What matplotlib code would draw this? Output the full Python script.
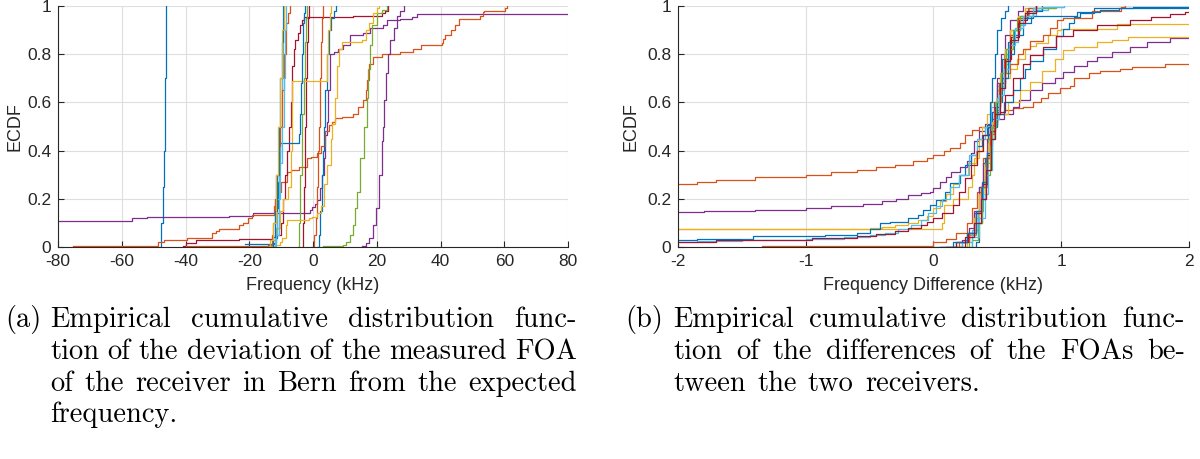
import matplotlib
matplotlib.use("Agg")
import matplotlib.pyplot as plt
from matplotlib.transforms import IdentityTransform

plt.rcParams['axes.unicode_minus'] = False

# MATLAB default colour order
BLUE, ORANGE, YELLOW, PURPLE = '#0072BD', '#D95319', '#EDB120', '#7E2F8E'
GREEN, CYAN, DRED = '#77AC30', '#4DBEEE', '#A2142F'

# ---- (a) deviation from expected frequency, kHz -> ECDF (step knots)
a_blue_far = [(-48.2, 0.0), (-47.6, 0.1), (-47.1, 0.25), (-46.8, 0.4), (-46.5, 0.7), (-46.2, 1.0)]
a_purple_long = [(-80, 0.109), (-56.9, 0.119), (-52.2, 0.126), (-26.3, 0.13), (-18.7, 0.14), (-0.9, 0.153),
                 (-0.2, 0.167), (0.5, 0.18), (1.2, 0.195), (2.2, 0.245), (2.8, 0.3), (3.3, 0.37), (3.8, 0.465),
                 (4.3, 0.52), (4.8, 0.65), (5.3, 0.8), (6.5, 0.81), (7.7, 0.82), (9.3, 0.84), (11.6, 0.88),
                 (15.8, 0.89), (17.9, 0.91), (22.0, 0.92), (23.2, 0.94), (27.3, 0.945), (31.0, 0.955),
                 (32.6, 0.965), (80, 0.965)]
a_orange_long = [(-75.3, 0.005), (-48.6, 0.022), (-46.8, 0.031), (-39.5, 0.039), (-31.7, 0.06), (-30.5, 0.068),
                 (-29.6, 0.074), (-23.3, 0.09), (-22.0, 0.10), (-20.5, 0.12), (-19.0, 0.133), (-12.3, 0.17),
                 (-11.8, 0.2), (-11.2, 0.23), (-10.0, 0.27), (-8.1, 0.31), (-7.0, 0.32), (-4.4, 0.333),
                 (-1.8, 0.37), (-0.7, 0.375), (1.3, 0.39), (2.4, 0.42), (3.9, 0.48), (5.0, 0.506), (6.1, 0.52),
                 (7.0, 0.535), (9.1, 0.54), (12.5, 0.55), (14.0, 0.58), (15.7, 0.61), (16.5, 0.65), (17.0, 0.695),
                 (17.6, 0.76), (18.8, 0.79), (21.8, 0.80), (27.2, 0.81), (31.4, 0.823), (33.8, 0.837),
                 (40.4, 0.845), (40.8, 0.865), (41.5, 0.88), (43.4, 0.9), (44.5, 0.92), (45.8, 0.945),
                 (52.4, 0.96), (53.2, 0.975), (53.6, 0.98), (60.2, 0.99), (60.8, 1.0)]
a_dred_long = [(-40.8, 0.003), (-39.9, 0.015), (-36.8, 0.03), (-23.3, 0.033), (-19.0, 0.035), (-13.0, 0.04),
               (-11.5, 0.05), (-10.0, 0.1), (-9.5, 0.2), (-8.8, 0.3), (-8.1, 0.4), (-7.5, 0.5), (-7.0, 0.6),
               (-6.5, 0.75), (-6.0, 0.82), (-5.6, 0.86), (-4.8, 0.89), (-4.1, 0.92), (-3.4, 0.94),
               (-2.8, 0.955), (12.5, 0.96), (21.6, 0.97), (22.5, 0.98), (23.5, 1.0)]
a_dred_steep = [(-3.6, 0.0), (-3.2, 0.1), (-2.9, 0.25), (-2.6, 0.4), (-2.4, 0.5), (-2.1, 0.7), (-1.8, 0.85),
                (-1.5, 0.95), (-1.2, 1.0)]
a_orange_steep = [(-0.5, 0.0), (0.2, 0.05), (0.8, 0.12), (1.2, 0.25), (1.6, 0.4), (2.0, 0.5), (2.3, 0.7),
                  (2.6, 0.85), (2.9, 0.95), (3.1, 1.0)]
a_green_steep = [(-4.8, 0.0), (-4.4, 0.1), (-4.0, 0.3), (-3.6, 0.45), (-3.3, 0.55), (-2.9, 0.7), (-2.5, 0.85),
                 (-2.1, 0.95), (-1.8, 1.0)]
a_green_right = [(3.0, 0.003), (9.4, 0.01), (10.5, 0.02), (11.6, 0.05), (12.6, 0.09), (13.2, 0.16), (13.7, 0.23),
                 (14.8, 0.37), (16.0, 0.5), (16.8, 0.62), (17.4, 0.74), (18.0, 0.84), (18.5, 0.92), (20.0, 0.97),
                 (21.5, 0.985), (23.3, 1.0)]
a_purple_right = [(15.3, 0.005), (16.5, 0.015), (17.6, 0.037), (18.7, 0.09), (19.8, 0.16), (20.8, 0.3),
                  (21.5, 0.44), (21.9, 0.5), (22.4, 0.61), (23.0, 0.72), (23.6, 0.8), (24.2, 0.86), (25.4, 0.91),
                  (26.4, 0.96), (27.2, 0.98), (28.5, 1.0)]
a_blue_right = [(1.2, 0.0), (1.8, 0.05), (2.2, 0.15), (2.8, 0.3), (3.1, 0.4), (3.3, 0.5), (3.8, 0.65), (4.4, 0.8),
                (5.0, 0.9), (5.7, 0.95), (6.5, 0.98), (7.2, 1.0)]
a_yellow_slow = [(-16.5, 0.003), (-12.0, 0.01), (-10.5, 0.02), (-9.7, 0.036), (-8.6, 0.09), (-8.1, 0.112),
                 (-1.3, 0.12), (-0.3, 0.126), (1.3, 0.14), (2.4, 0.17), (3.4, 0.26), (4.4, 0.34), (5.5, 0.45),
                 (6.1, 0.51), (6.8, 0.62), (7.5, 0.75), (8.3, 0.82), (9.1, 0.85), (15.4, 0.86), (16.5, 0.9),
                 (17.6, 0.93), (18.8, 0.97), (20.0, 0.99), (20.8, 1.0)]
a_yellow_plateau = [(-14.0, 0.0), (-12.5, 0.03), (-11.5, 0.08), (-10.5, 0.15), (-9.5, 0.2), (-8.0, 0.25),
                    (-6.9, 0.28), (-6.8, 0.4), (-6.7, 0.55), (-6.6, 0.69), (4.3, 0.8), (4.7, 0.9), (5.2, 0.97),
                    (5.6, 1.0)]
a_blue_plateau = [(-21.4, 0.011), (-12.2, 0.015), (-11.7, 0.036), (-11.4, 0.1), (-11.2, 0.16), (-10.9, 0.27),
                  (-10.7, 0.37), (-10.2, 0.43), (-4.4, 0.47), (-4.1, 0.55), (-3.8, 0.68), (-3.5, 0.8),
                  (-3.2, 0.93), (-2.9, 0.97), (-2.6, 1.0)]
a_cyan_1 = [(-13.0, 0.0), (-12.0, 0.05), (-11.3, 0.2), (-10.8, 0.35), (-10.2, 0.5), (-9.8, 0.7), (-9.4, 0.9),
            (-9.0, 1.0)]
a_orange_mid = [(-40.0, 0.003), (-22.0, 0.006), (-14.0, 0.01), (-13.0, 0.05), (-12.5, 0.1), (-12.0, 0.2),
                (-11.5, 0.3), (-10.8, 0.42), (-10.2, 0.5), (-9.6, 0.65), (-9.0, 0.8), (-8.5, 0.93), (-7.8, 0.97),
                (-7.2, 1.0)]
a_cyan_2 = [(-12.5, 0.0), (-11.5, 0.05), (-10.8, 0.2), (-10.2, 0.35), (-9.6, 0.5), (-9.2, 0.7), (-8.8, 0.9),
            (-8.4, 1.0)]
a_blue_mid = [(-13.5, 0.0), (-12.5, 0.04), (-11.8, 0.15), (-11.2, 0.3), (-10.7, 0.5), (-10.2, 0.7), (-9.8, 0.85),
              (-9.3, 1.0)]
a_yellow_mid = [(-15.0, 0.0), (-13.5, 0.03), (-12.5, 0.1), (-11.6, 0.3), (-11.0, 0.5), (-10.3, 0.7), (-9.7, 0.9),
                (-9.2, 1.0)]

# ---- (b) difference between receivers, kHz -> ECDF
b_orange_long = [(-2.0, 0.26), (-1.85, 0.27), (-1.7, 0.28), (-1.4, 0.29), (-1.0, 0.30), (-0.8, 0.31), (-0.6, 0.32),
                 (-0.45, 0.33), (-0.3, 0.34), (-0.16, 0.355), (-0.05, 0.368), (0.0, 0.382), (0.08, 0.40),
                 (0.13, 0.41), (0.21, 0.43), (0.25, 0.465), (0.3, 0.485), (0.36, 0.5), (0.45, 0.52), (0.5, 0.55),
                 (0.55, 0.57), (0.62, 0.575), (0.7, 0.58), (0.78, 0.6), (0.84, 0.62), (0.9, 0.64), (0.99, 0.66),
                 (1.07, 0.67), (1.1, 0.7), (1.22, 0.72), (1.3, 0.73), (1.46, 0.74), (1.55, 0.745), (1.81, 0.76),
                 (2.0, 0.76)]
b_purple_long = [(-2.0, 0.145), (-1.8, 0.15), (-1.4, 0.155), (-1.0, 0.16), (-0.8, 0.17), (-0.55, 0.18),
                 (-0.4, 0.19), (-0.29, 0.2), (-0.2, 0.215), (-0.1, 0.222), (-0.03, 0.228), (0.0, 0.243),
                 (0.05, 0.27), (0.1, 0.29), (0.14, 0.31), (0.21, 0.33), (0.26, 0.355), (0.29, 0.39), (0.32, 0.44),
                 (0.36, 0.48), (0.4, 0.51), (0.45, 0.53), (0.55, 0.55), (0.62, 0.58), (0.67, 0.61), (0.755, 0.65),
                 (0.85, 0.68), (0.95, 0.7), (1.01, 0.726), (1.1, 0.75), (1.2, 0.77), (1.28, 0.79), (1.4, 0.81),
                 (1.54, 0.83), (1.67, 0.85), (1.85, 0.867), (2.0, 0.867)]
b_yellow_a = [(-2.0, 0.075), (0.063, 0.1), (0.08, 0.176), (0.15, 0.2), (0.27, 0.25), (0.3, 0.3), (0.32, 0.37),
              (0.36, 0.45), (0.38, 0.5), (0.42, 0.55), (0.45, 0.6), (0.5, 0.65), (0.55, 0.7), (0.6, 0.74),
              (0.65, 0.78), (0.72, 0.82), (0.755, 0.834), (0.8, 0.848), (0.9, 0.88), (0.97, 0.9), (1.0, 0.905),
              (1.44, 0.925), (2.0, 0.925)]
b_yellow_b = [(-2.0, 0.075), (-0.5, 0.08), (-0.4, 0.085), (-0.3, 0.09), (-0.2, 0.1), (-0.12, 0.11), (-0.05, 0.13),
              (0.0, 0.16), (0.05, 0.19), (0.1, 0.22), (0.15, 0.26), (0.2, 0.3), (0.27, 0.35), (0.33, 0.4),
              (0.38, 0.45), (0.43, 0.5), (0.5, 0.55), (0.58, 0.6), (0.68, 0.65), (0.755, 0.685), (0.85, 0.73),
              (0.95, 0.78), (1.01, 0.817), (1.1, 0.83), (1.28, 0.85), (1.4, 0.86), (1.52, 0.87), (2.0, 0.87)]
b_blue_long = [(-2.0, 0.028), (-1.85, 0.033), (-1.41, 0.044), (-0.85, 0.05), (-0.6, 0.06), (-0.5, 0.075),
               (-0.42, 0.1), (-0.34, 0.105), (-0.2, 0.12), (-0.12, 0.133), (-0.08, 0.155), (-0.03, 0.176),
               (0.02, 0.195), (0.09, 0.23), (0.13, 0.264), (0.21, 0.3), (0.25, 0.34), (0.29, 0.38), (0.34, 0.42),
               (0.38, 0.465), (0.42, 0.506), (0.48, 0.55), (0.55, 0.6), (0.62, 0.65), (0.68, 0.7), (0.72, 0.74),
               (0.755, 0.77), (0.86, 0.82), (0.96, 0.875), (1.01, 0.905), (1.06, 0.93), (1.1, 0.955),
               (1.15, 0.97), (1.26, 0.99), (1.56, 0.995), (2.0, 0.995)]
b_cyan_long = [(-2.0, 0.02), (-1.85, 0.025), (-1.5, 0.03), (-1.0, 0.035), (-0.7, 0.04), (-0.5, 0.05), (-0.38, 0.06),
               (-0.28, 0.075), (-0.18, 0.09), (-0.1, 0.11), (-0.04, 0.14), (0.02, 0.17), (0.07, 0.2), (0.13, 0.25),
               (0.2, 0.3), (0.28, 0.38), (0.34, 0.45), (0.4, 0.5), (0.45, 0.58), (0.5, 0.67), (0.55, 0.76),
               (0.6, 0.85), (0.66, 0.92), (0.72, 0.96), (0.8, 0.985), (0.9, 0.995), (1.02, 1.0)]
b_dred_long = [(-2.0, 0.022), (-1.7, 0.03), (-0.95, 0.037), (-0.6, 0.045), (-0.45, 0.055), (-0.3, 0.065),
               (-0.2, 0.08), (-0.1, 0.09), (-0.05, 0.105), (0.0, 0.12), (0.07, 0.14), (0.15, 0.176), (0.2, 0.23),
               (0.25, 0.285), (0.29, 0.34), (0.34, 0.4), (0.39, 0.465), (0.44, 0.506), (0.5, 0.56), (0.56, 0.63),
               (0.62, 0.7), (0.7, 0.76), (0.755, 0.797), (0.86, 0.83), (0.96, 0.876), (1.09, 0.9), (1.28, 0.92),
               (1.54, 0.94), (1.7, 0.955), (1.85, 0.966), (1.97, 0.975), (2.0, 0.975)]
b_orange_short = [(-1.34, 0.005), (0.0, 0.02), (0.1, 0.035), (0.18, 0.06), (0.26, 0.1), (0.3, 0.16), (0.34, 0.23),
                  (0.39, 0.37), (0.44, 0.5), (0.48, 0.58), (0.52, 0.66), (0.56, 0.72), (0.6, 0.76), (0.66, 0.8),
                  (0.7, 0.82), (0.755, 0.855), (0.86, 0.88), (0.91, 0.91), (0.97, 0.94), (1.01, 0.95),
                  (1.24, 0.98), (1.47, 0.995), (1.5, 1.0)]
b_blue_tail = [(0.05, 0.0), (0.18, 0.02), (0.26, 0.06), (0.32, 0.14), (0.36, 0.25), (0.4, 0.37), (0.43, 0.47),
               (0.46, 0.56), (0.5, 0.68), (0.54, 0.78), (0.58, 0.85), (0.63, 0.9), (0.68, 0.93), (0.76, 0.96),
               (1.12, 0.975), (1.3, 0.985), (1.45, 0.99), (2.0, 0.99)]
b_blue_fast = [(0.30, 0.0), (0.33, 0.02), (0.36, 0.1), (0.38, 0.2), (0.40, 0.3), (0.42, 0.4), (0.43, 0.5),
               (0.445, 0.6), (0.46, 0.7), (0.48, 0.8), (0.50, 0.9), (0.53, 0.95), (0.56, 0.98), (0.58, 1.0)]
b_purple_fast = [(0.15, 0.0), (0.22, 0.03), (0.28, 0.08), (0.32, 0.15), (0.36, 0.25), (0.39, 0.35), (0.42, 0.45),
                 (0.44, 0.5), (0.47, 0.6), (0.50, 0.7), (0.53, 0.8), (0.56, 0.88), (0.60, 0.94), (0.66, 0.98),
                 (0.70, 1.0)]
b_green_1 = [(0.2, 0.0), (0.28, 0.05), (0.33, 0.15), (0.37, 0.25), (0.40, 0.35), (0.43, 0.45), (0.45, 0.5),
             (0.48, 0.6), (0.52, 0.7), (0.55, 0.8), (0.6, 0.9), (0.65, 0.95), (0.72, 0.98), (0.8, 0.99),
             (0.96, 0.995)]
b_yellow_fast = [(0.18, 0.0), (0.26, 0.04), (0.32, 0.12), (0.36, 0.22), (0.40, 0.33), (0.43, 0.43), (0.46, 0.52),
                 (0.49, 0.62), (0.52, 0.72), (0.56, 0.82), (0.60, 0.9), (0.66, 0.96), (0.72, 0.99), (0.85, 1.0)]
b_cyan_1 = [(0.12, 0.0), (0.22, 0.02), (0.30, 0.07), (0.35, 0.15), (0.39, 0.25), (0.42, 0.35), (0.45, 0.45),
            (0.47, 0.52), (0.50, 0.62), (0.53, 0.72), (0.57, 0.82), (0.62, 0.9), (0.68, 0.96), (0.75, 0.99),
            (0.8, 0.995)]
b_orange_fast = [(0.1, 0.0), (0.2, 0.02), (0.28, 0.06), (0.33, 0.14), (0.37, 0.25), (0.41, 0.37), (0.44, 0.47),
                 (0.47, 0.57), (0.51, 0.68), (0.55, 0.78), (0.6, 0.88), (0.66, 0.95), (0.74, 0.99), (0.8, 1.0)]
b_dred_fast = [(0.05, 0.0), (0.18, 0.02), (0.27, 0.06), (0.33, 0.14), (0.38, 0.26), (0.42, 0.38), (0.45, 0.48),
               (0.48, 0.58), (0.52, 0.68), (0.56, 0.78), (0.61, 0.87), (0.67, 0.94), (0.73, 0.98), (0.8, 1.0)]
b_blue_2 = [(0.0, 0.0), (0.15, 0.02), (0.26, 0.06), (0.33, 0.15), (0.38, 0.27), (0.42, 0.39), (0.46, 0.5),
            (0.50, 0.6), (0.54, 0.7), (0.58, 0.8), (0.63, 0.88), (0.7, 0.95), (0.78, 0.98), (0.85, 1.0)]
b_green_2 = [(0.25, 0.0), (0.3, 0.03), (0.35, 0.1), (0.38, 0.2), (0.41, 0.3), (0.44, 0.42), (0.46, 0.5),
             (0.49, 0.6), (0.53, 0.72), (0.57, 0.82), (0.62, 0.9), (0.68, 0.96), (0.78, 0.99), (0.95, 0.995)]
b_cyan_2 = [(0.2, 0.0), (0.3, 0.04), (0.36, 0.12), (0.40, 0.22), (0.43, 0.32), (0.46, 0.45), (0.48, 0.53),
            (0.51, 0.63), (0.55, 0.74), (0.59, 0.84), (0.64, 0.91), (0.7, 0.96), (0.78, 0.99), (0.85, 0.995),
            (1.02, 1.0)]
b_dred_2 = [(0.1, 0.0), (0.25, 0.04), (0.32, 0.1), (0.37, 0.2), (0.41, 0.32), (0.45, 0.45), (0.48, 0.55),
            (0.52, 0.66), (0.56, 0.77), (0.6, 0.86), (0.66, 0.93), (0.72, 0.97), (0.8, 1.0)]

curves_a = [(a_blue_far, BLUE), (a_purple_long, PURPLE), (a_orange_long, ORANGE), (a_dred_long, DRED),
            (a_dred_steep, DRED), (a_orange_steep, ORANGE), (a_green_steep, GREEN), (a_green_right, GREEN),
            (a_purple_right, PURPLE), (a_blue_right, BLUE), (a_yellow_slow, YELLOW), (a_yellow_plateau, YELLOW),
            (a_blue_plateau, BLUE), (a_cyan_1, CYAN), (a_orange_mid, ORANGE), (a_cyan_2, CYAN),
            (a_blue_mid, BLUE), (a_yellow_mid, YELLOW)]
curves_b = [(b_orange_long, ORANGE), (b_purple_long, PURPLE), (b_yellow_a, YELLOW), (b_yellow_b, YELLOW),
            (b_blue_long, BLUE), (b_cyan_long, CYAN), (b_dred_long, DRED), (b_orange_short, ORANGE),
            (b_blue_tail, BLUE), (b_blue_fast, BLUE), (b_purple_fast, PURPLE), (b_green_1, GREEN),
            (b_yellow_fast, YELLOW), (b_cyan_1, CYAN), (b_orange_fast, ORANGE), (b_dred_fast, DRED),
            (b_blue_2, BLUE), (b_green_2, GREEN), (b_cyan_2, CYAN), (b_dred_2, DRED)]

yticks = [0, 0.2, 0.4, 0.6, 0.8, 1]
ytick_labels = ['0', '0.2', '0.4', '0.6', '0.8', '1']

caption_a = ["Empirical cumulative distribution func-",
             "tion of the deviation of the measured FOA",
             "of the receiver in Bern from the expected",
             "frequency."]
caption_b = ["Empirical cumulative distribution func-",
             "tion of the differences of the FOAs be-",
             "tween the two receivers."]

W, H = 1200, 459
fig = plt.figure(figsize=(W / 100, H / 100), dpi=100)
axa = fig.add_axes([58 / W, 212 / H, 510 / W, 241 / H])
axb = fig.add_axes([678 / W, 212 / H, 511 / W, 241 / H])


def draw(ax, curves, xlim, xticks, xlabel):
    for pts, col in curves:
        xs = [p[0] for p in pts]
        fs = [p[1] for p in pts]
        ax.plot(xs, fs, drawstyle='steps-post', color=col, lw=0.9)
    ax.set_xlim(xlim)
    ax.set_ylim(0, 1)
    ax.set_xticks(xticks)
    ax.set_xticklabels([str(t) for t in xticks])
    ax.set_yticks(yticks)
    ax.set_yticklabels(ytick_labels)
    ax.grid(True, color='#dedede', lw=0.8)
    ax.set_axisbelow(True)
    for s in ['top', 'right']:
        ax.spines[s].set_visible(False)
    for s in ['left', 'bottom']:
        ax.spines[s].set_color('#262626')
        ax.spines[s].set_linewidth(0.8)
    ax.tick_params(direction='in', length=4, width=0.8, colors='#262626', labelsize=12.5, pad=5)
    for lab in ax.get_xticklabels() + ax.get_yticklabels():
        lab.set_fontfamily('Liberation Sans')
    ax.set_xlabel(xlabel, fontsize=13, family='Liberation Sans', color='#262626')
    ax.set_ylabel('ECDF', fontsize=13, family='Liberation Sans', color='#262626')
    ax.xaxis.label.set_va('center')
    ax.yaxis.label.set_va('center')


draw(axa, curves_a, (-80, 80), list(range(-80, 81, 20)), 'Frequency (kHz)')
draw(axb, curves_b, (-2, 2), [-2, -1, 0, 1, 2], 'Frequency Difference (kHz)')
axa.xaxis.set_label_coords(0.5, (247 - 285) / 241)
axb.xaxis.set_label_coords(0.5, (247 - 285) / 241)
axa.yaxis.set_label_coords((15 - 58) / 510, 0.5)
axb.yaxis.set_label_coords((631 - 678) / 511, 0.5)

# captions, set in pixel coordinates and justified word by word
cap_font = dict(family=['cmr10', 'DejaVu Serif'], fontsize=20.5, color='black',
                transform=IdentityTransform(), va='baseline')
renderer = fig.canvas.get_renderer()


def cap_line(text, x0, x1, y, justify=True):
    words = text.split(' ')
    objs = [fig.text(0, H - y, w, **cap_font) for w in words]
    widths = [o.get_window_extent(renderer).width for o in objs]
    if justify and len(words) > 1:
        gap = (x1 - x0 - sum(widths)) / (len(words) - 1)
    else:
        gap = fig.text(0, 0, ' ', **cap_font).get_window_extent(renderer).width * 1.2
    x = x0
    for o, w in zip(objs, widths):
        o.set_x(x)
        x += w + gap


baselines = [327, 359, 391, 422]
fig.text(5, H - baselines[0], '(a)', **cap_font)
for i, line in enumerate(caption_a):
    cap_line(line, 50, 577, baselines[i], justify=(i < len(caption_a) - 1))
fig.text(625, H - baselines[0], '(b)', **cap_font)
for i, line in enumerate(caption_b):
    cap_line(line, 673, 1185, baselines[i], justify=(i < len(caption_b) - 1))

fig.savefig('out.png', dpi=100)
